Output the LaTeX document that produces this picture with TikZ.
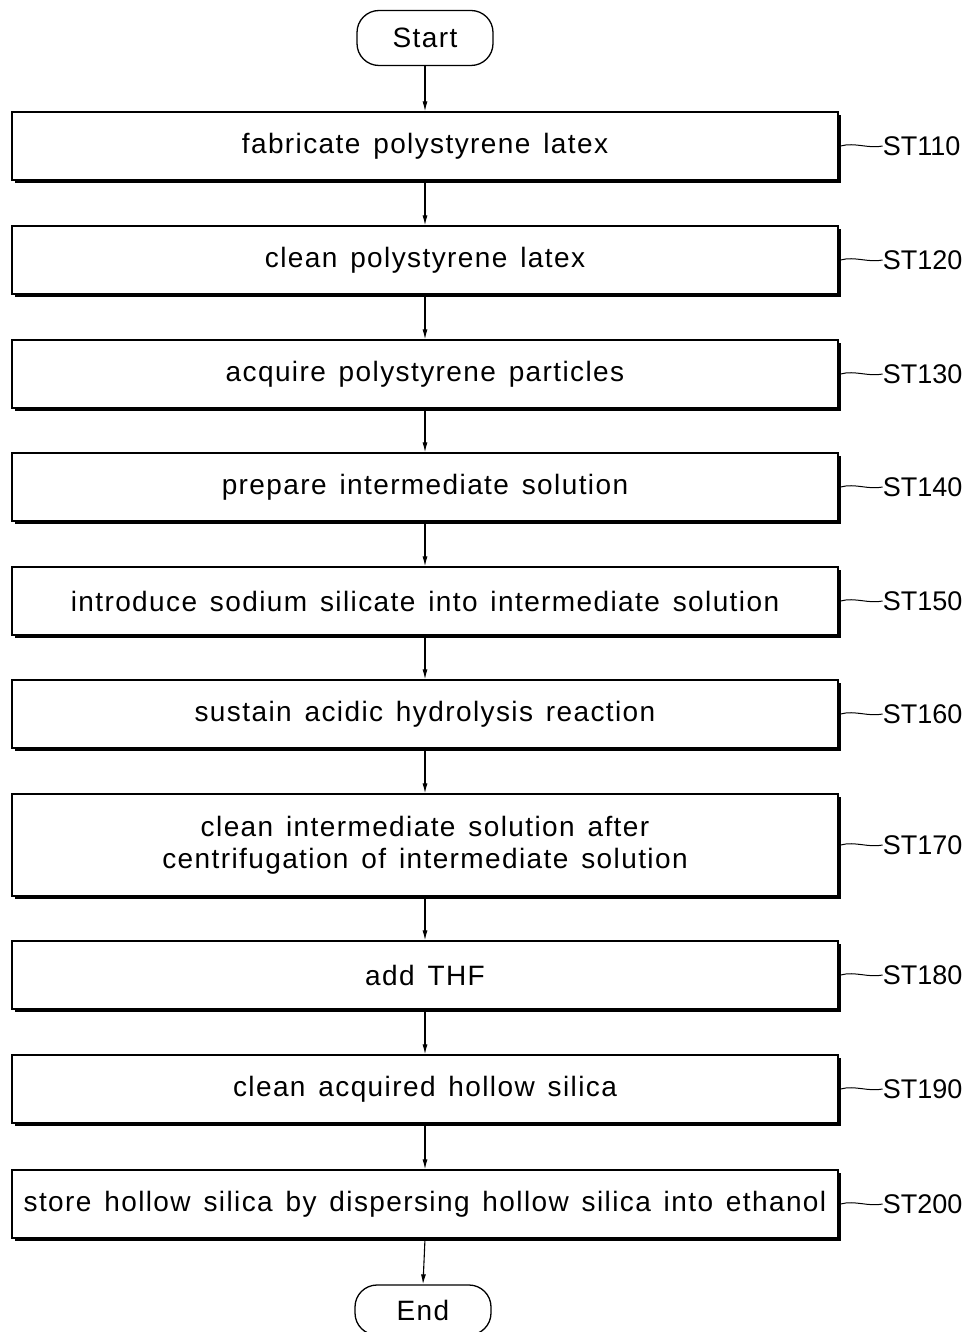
\documentclass[tikz,border=0pt]{standalone}
\usepackage{fontspec}
\setmainfont{Liberation Sans}
\newfontfamily\boxfont[LetterSpace=5,WordSpace=1.4]{Liberation Sans}
\usetikzlibrary{arrows.meta,shadows}
\tikzset{
  stepbox/.style={draw,line width=1.3pt,minimum width=826pt,minimum height=68pt,align=center,
    fill=white,font=\boxfont\fontsize{28}{32}\selectfont,
    drop shadow={shadow xshift=2.5pt,shadow yshift=-3pt,fill=black,opacity=1}},
  term/.style={draw,line width=1.3pt,rounded corners=22pt,minimum width=136pt,minimum height=55pt,
    font=\boxfont\fontsize{28}{32}\selectfont},
  steplabel/.style={anchor=west,inner sep=0pt},
  flow/.style={line width=1.1pt,-{Latex[length=10pt,width=5pt]}}
}
\begin{document}
\begin{tikzpicture}[x=1pt,y=-1pt,font=\fontsize{27}{32}\selectfont]
\useasboundingbox (0,0) rectangle (965,1332);
\fill[white] (0,0) rectangle (965,1332);
\node[term] (start) at (425,38) {Start};
\node[stepbox] (b1) at (425,146) {fabricate polystyrene latex};
\node[stepbox] (b2) at (425,260) {clean polystyrene latex};
\node[stepbox] (b3) at (425,374) {acquire polystyrene particles};
\node[stepbox] (b4) at (425,487) {prepare intermediate solution};
\node[stepbox] (b5) at (425,601) {introduce sodium silicate into intermediate solution};
\node[stepbox] (b6) at (425,714) {sustain acidic hydrolysis reaction};
\node[stepbox,minimum height=102pt] (b7) at (425,845) {clean intermediate solution after\\centrifugation of intermediate solution};
\node[stepbox] (b8) at (425,975) {add THF};
\node[stepbox] (b9) at (425,1089) {clean acquired hollow silica};
\node[stepbox] (b10) at (425,1204) {store hollow silica by dispersing hollow silica into ethanol};
\node[term,minimum height=50pt] (end) at (423,1310) {End};
%arrows
\draw[flow] (start) -- (b1.north);
\foreach \i/\j in {1/2,2/3,3/4,4/5,5/6,6/7,7/8,8/9,9/10}
  \draw[flow] (b\i.south) -- (b\j.north);
\draw[flow] (b10.south) -- (end.north);
%labels
\foreach \i/\t in {1/ST110,2/ST120,3/ST130,4/ST140,5/ST150,6/ST160,7/ST170,8/ST180,9/ST190,10/ST200}{
  \node[steplabel] (l\i) at ([xshift=44pt]b\i.east) {\t};
  \draw[line width=1pt] ([xshift=2pt]b\i.east) .. controls +(14,-4) and +(-14,3) .. (l\i.west);
}
\end{tikzpicture}
\end{document}
